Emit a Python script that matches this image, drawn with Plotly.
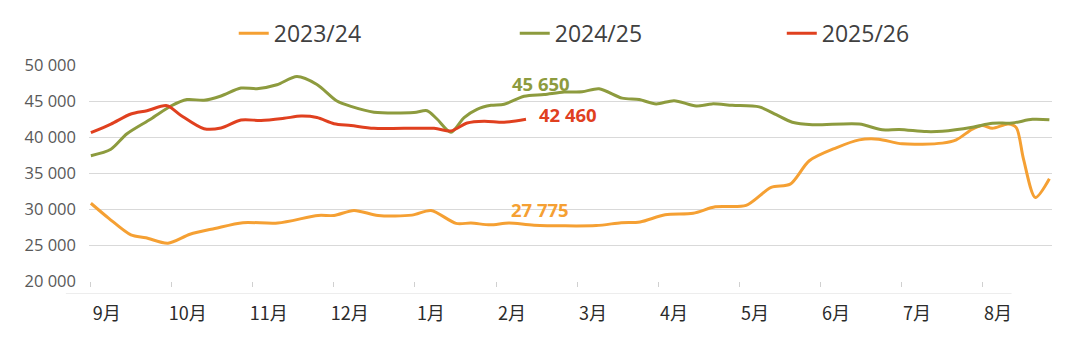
import plotly.graph_objects as go

# ---- data (x = week of marketing year, Sep = 0) ----
months = ["9月", "10月", "11月", "12月", "1月", "2月", "3月", "4月", "5月", "6月", "7月", "8月"]
y_ticks = [20000, 25000, 30000, 35000, 40000, 45000, 50000]
y_tick_text = ["20 000", "25 000", "30 000", "35 000", "40 000", "45 000", "50 000"]

wk_2324 = [0, 0.96, 2.14, 2.94, 4.12, 5.30, 6.63, 8.13, 10.0, 12.15,
           13.0, 14.07, 15.36, 17.17, 18.19, 19.53, 20.33, 21.35, 22.36, 23.70,
           27.02, 28.36, 29.37, 30.71, 32.21, 33.39, 35.04, 36.38, 37.40, 38.42,
           39.86, 41.09, 42.11, 43.39, 45.53, 46.28, 47.14, 47.67, 48.21, 49.06,
           49.49, 49.87, 50.51, 51.26]
v_2324 = [30800, 28700, 26400, 26000, 25250, 26500, 27300, 28100, 28050, 29100,
          29100, 29800, 29100, 29150, 29800, 28000, 28050, 27800, 28050, 27750,
          27700, 28100, 28200, 29200, 29400, 30300, 30500, 33000, 33450, 36700,
          38500, 39600, 39700, 39050, 39150, 39600, 41100, 41600, 41200, 41800,
          41300, 37000, 31600, 34200]

wk_2425 = [0, 1.07, 1.93, 3.21, 4.28, 5.14, 6.05, 6.96, 8.03, 8.88,
           9.95, 11.02, 12.09, 13.16, 13.91, 15.14, 17.28, 17.98, 18.51, 19.26,
           19.96, 20.65, 21.40, 22.10, 23.17, 24.24, 25.31, 26.27, 27.18, 28.41,
           29.32, 30.23, 31.19, 32.37, 33.23, 34.30, 35.74, 36.65, 37.51, 38.58,
           41.09, 42.32, 43.23, 44.68, 45.53, 47.14, 48.21, 49.28, 50.35, 51.26]
v_2425 = [37400, 38300, 40450, 42500, 44300, 45200, 45100, 45700, 46800, 46700,
          47250, 48400, 47300, 45000, 44250, 43450, 43400, 43650, 42500, 40650,
          42700, 43850, 44400, 44550, 45650, 45900, 46250, 46280, 46700, 45400,
          45200, 44600, 45050, 44300, 44600, 44400, 44180, 43100, 42050, 41700,
          41800, 41000, 41050, 40750, 40800, 41350, 41900, 41950, 42450, 42400]

wk_2526 = [0, 1.07, 2.14, 3.0, 4.07, 4.82, 6.05, 6.96, 8.03, 9.10,
           10.33, 11.24, 12.09, 13.0, 13.91, 15.14, 18.35, 19.26, 20.12, 21.03,
           22.10, 23.27]
v_2526 = [40600, 41800, 43200, 43650, 44350, 43000, 41150, 41250, 42350, 42300,
          42600, 42900, 42700, 41850, 41600, 41200, 41200, 40850, 41950, 42200,
          42050, 42460]

labels = [("45 650", 24.07, 47450), ("42 460", 23.86, 43160), ("27 775", 24.0, 29930)]

C_ORANGE = "#F5A033"
C_GREEN = "#8D9B3E"
C_RED = "#E0401F"

WEEKS_PER_MONTH = 52 / 12

fig = go.Figure()
series = [("2023/24", wk_2324, v_2324, C_ORANGE, "legend"),
          ("2024/25", wk_2425, v_2425, C_GREEN, "legend2"),
          ("2025/26", wk_2526, v_2526, C_RED, "legend3")]
for name, xs, ys, col, lg in series:
    fig.add_trace(go.Scatter(x=xs, y=ys, name=name, mode="lines",
                             line=dict(color=col, width=3, shape="spline", smoothing=0.8),
                             legend=lg))

label_colors = [C_GREEN, C_RED, C_ORANGE]
label_anchor = ["center", "left", "center"]
for (txt, lx, ly), col, anc in zip(labels, label_colors, label_anchor):
    fig.add_annotation(x=lx, y=ly, text=f"<b>{txt}</b>", showarrow=False,
                       xanchor=anc, yanchor="middle",
                       font=dict(family="Open Sans", size=18.5, color=col))

month_pos = [i * WEEKS_PER_MONTH for i in range(len(months))]
label_pos = [p + 0.85 for p in month_pos]

leg_font = dict(family="Open Sans", size=23, color="#404040")
fig.update_layout(
    width=1080, height=337,
    margin=dict(l=89, r=28, t=61, b=52),
    paper_bgcolor="white", plot_bgcolor="white",
    showlegend=True,
    font=dict(family="Open Sans", color="#595959"),
    legend=dict(x=0.1503, y=1.147, xanchor="left", yanchor="middle", orientation="h",
                font=leg_font, bgcolor="rgba(0,0,0,0)"),
    legend2=dict(x=0.4421, y=1.147, xanchor="left", yanchor="middle", orientation="h",
                 font=leg_font, bgcolor="rgba(0,0,0,0)"),
    legend3=dict(x=0.7194, y=1.147, xanchor="left", yanchor="middle", orientation="h",
                 font=leg_font, bgcolor="rgba(0,0,0,0)"),
    xaxis=dict(range=[-0.1, 51.4], showgrid=False, zeroline=False, showline=False,
               tickmode="array", tickvals=label_pos, ticktext=months, ticks="",
               tickfont=dict(family="Noto Sans CJK SC", size=18, color="#2b2b2b"),
               ticklabelstandoff=20,
               minor=dict(tickmode="array", tickvals=month_pos, ticks="outside",
                          ticklen=5, tickcolor="#d0d0d0", tickwidth=1, showgrid=False)),
    yaxis=dict(range=[20000, 50000], tickmode="array", tickvals=y_ticks, ticktext=y_tick_text,
               showgrid=True, gridcolor="#d9d9d9", gridwidth=1.3, zeroline=False,
               showline=False, ticks="", ticklabelstandoff=12,
               tickfont=dict(family="Open Sans", size=16.5, color="#595959")),
)

fig.add_shape(type="line", xref="paper", yref="paper", x0=-0.024, x1=0.958, y0=-0.058, y1=-0.058,
              line=dict(color="#ededed", width=1))

fig.write_html("out.html")
